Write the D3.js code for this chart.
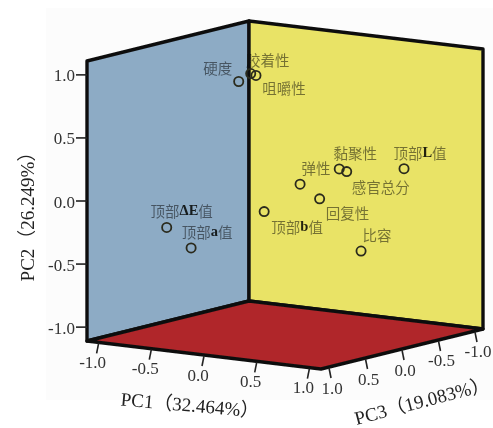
<!DOCTYPE html>
<html lang="en">
<head>
<meta charset="utf-8">
<title>PCA loading plot</title>
<script src="https://d3js.org/d3.v7.min.js"></script>
<style>
  html, body { margin: 0; padding: 0; background: #fff; }
  svg { display: block; }
  .tick-label { font-family: "Liberation Serif", serif; font-size: 17px; fill: #333; }
  .axis-title { font-family: "Liberation Serif", "Noto Sans CJK SC", serif; font-size: 19px; fill: #222; }
  .point-label { font-family: "Noto Sans CJK SC", sans-serif; font-size: 14.5px; fill: #000; fill-opacity: .5; }
  .point-label tspan { font-family: "Liberation Serif", serif; font-weight: bold; fill-opacity: .85; }
</style>
</head>
<body>
<script>
// loadings (depth is an estimate, the plot only shows a projection)
var names = ["硬度", "胶着性", "咀嚼性", "黏聚性", "感官总分", "顶部L值", "弹性", "回复性", "顶部b值", "比容", "顶部ΔE值", "顶部a值"];
var pc1 = [-0.10, 0.00, 0.05, 0.75, 0.80, 0.70, 0.60, 0.55, 0.10, 0.50, -0.70, -0.60];
var pc2 = [0.96, 1.03, 1.02, 0.33, 0.31, 0.19, 0.24, 0.07, -0.06, -0.44, -0.24, -0.42];
var pc3 = [0.49, 0.47, 0.47, 0.34, 0.31, -0.62, 0.66, 0.32, 0.43, -0.32, 0.61, 0.42];
var ticks = [-1.0, -0.5, 0.0, 0.5, 1.0];
var titles = ["PC1（32.464%）", "PC2（26.249%）", "PC3（19.083%）"];

var w = 493, h = 428;
var lim = 1.11;

// each axis moves the point along its own screen direction
var x1 = d3.scaleLinear().domain([-lim, lim]).range([0, 234]);
var y1 = d3.scaleLinear().domain([-lim, lim]).range([0, 28]);
var x3 = d3.scaleLinear().domain([lim, -lim]).range([0, 162]);
var y3 = d3.scaleLinear().domain([lim, -lim]).range([0, -40]);
var y2 = d3.scaleLinear().domain([-lim, lim]).range([0, -280]);

function proj(a, b, c) {
  return [87 + x1(a) + x3(c), 341 + y1(a) + y3(c) + y2(b)];
}
function poly(pts) {
  return "M" + pts.map(function(p) { return proj(p[0], p[1], p[2]).join(","); }).join("L") + "Z";
}

var svg = d3.select("body").append("svg").attr("width", w).attr("height", h);

var defs = svg.append("defs");
defs.append("filter").attr("id", "soft").append("feGaussianBlur").attr("stdDeviation", 0.45);

// scanned page background
svg.append("rect").attr("x", 46).attr("y", 8).attr("width", 447).attr("height", 392).attr("fill", "#fcfcfc");

var g = svg.append("g").attr("filter", "url(#soft)");

// walls and floor
var walls = [
  { fill: "#8dabc5", pts: [[-lim, -lim, lim], [-lim, lim, lim], [-lim, lim, -lim], [-lim, -lim, -lim]] },
  { fill: "#e9e366", pts: [[-lim, -lim, -lim], [-lim, lim, -lim], [lim, lim, -lim], [lim, -lim, -lim]] },
  { fill: "#b0282b", pts: [[-lim, -lim, lim], [lim, -lim, lim], [lim, -lim, -lim], [-lim, -lim, -lim]] }
];
g.selectAll("path.wall").data(walls).enter().append("path")
  .attr("class", "wall")
  .attr("d", function(d) { return poly(d.pts); })
  .attr("fill", function(d) { return d.fill; })
  .attr("stroke", "#111")
  .attr("stroke-width", 3.4)
  .attr("stroke-linejoin", "round");

// PC2 ticks, on the left edge
ticks.forEach(function(t) {
  var p = proj(-lim, t, lim);
  g.append("line").attr("x1", p[0] - 11).attr("x2", p[0]).attr("y1", p[1]).attr("y2", p[1])
    .attr("stroke", "#222").attr("stroke-width", 1.6);
  g.append("text").attr("class", "tick-label")
    .attr("x", p[0] - 12).attr("y", p[1] + 1).attr("text-anchor", "end").attr("dominant-baseline", "central")
    .text(t.toFixed(1));
});

// PC1 ticks, along the front left edge
ticks.forEach(function(t) {
  var p = proj(t, -lim, lim);
  g.append("line").attr("x1", p[0]).attr("x2", p[0] - 2).attr("y1", p[1] + 1).attr("y2", p[1] + 11)
    .attr("stroke", "#222").attr("stroke-width", 1.6);
  g.append("text").attr("class", "tick-label")
    .attr("x", p[0] - 6).attr("y", p[1] + 20).attr("text-anchor", "middle").attr("dominant-baseline", "central")
    .text(t.toFixed(1));
});

// PC3 ticks, along the front right edge
ticks.forEach(function(t) {
  var p = proj(lim, -lim, t);
  g.append("line").attr("x1", p[0]).attr("x2", p[0] + 2).attr("y1", p[1] + 1).attr("y2", p[1] + 11)
    .attr("stroke", "#222").attr("stroke-width", 1.6);
  g.append("text").attr("class", "tick-label")
    .attr("x", p[0] + 3).attr("y", p[1] + 21).attr("text-anchor", "middle").attr("dominant-baseline", "central")
    .text(t.toFixed(1));
});

// label offset from its marker
var labelDx = [-21, 17, 28, 16, 34, 16, 16, 28, 33, 16, 15, 16];
var labelDy = [-14, -15, 12, -17, 14, -17, -17, 13, 14, -17, -17, -17];

var points = names.map(function(n, i) {
  return { name: n, p: proj(pc1[i], pc2[i], pc3[i]), dx: labelDx[i], dy: labelDy[i] };
});

var labels = g.selectAll("text.point-label").data(points).enter().append("text")
  .attr("class", "point-label")
  .attr("x", function(d) { return d.p[0] + d.dx; })
  .attr("y", function(d) { return d.p[1] + d.dy; })
  .attr("text-anchor", "middle")
  .attr("dominant-baseline", "central");

// latin letters in the labels are set bold
labels.each(function(d) {
  var el = d3.select(this);
  d.name.split(/(Δ?[A-Za-z]+)/).forEach(function(part) {
    if (!part) return;
    if (/[A-Za-z]/.test(part)) el.append("tspan").text(part);
    else el.append("tspan").style("font-family", "'Noto Sans CJK SC'").style("font-weight", "normal").style("fill-opacity", .5).text(part);
  });
});

g.selectAll("circle.point").data(points).enter().append("circle")
  .attr("class", "point")
  .attr("cx", function(d) { return d.p[0]; })
  .attr("cy", function(d) { return d.p[1]; })
  .attr("r", 4.6)
  .attr("fill", "none")
  .attr("stroke", "#2b2b1e")
  .attr("stroke-width", 1.8);

// axis titles
var titlePos = [[190, 405, 5], [27, 212, -90], [422, 401, -14.7]];
g.selectAll("text.axis-title").data(titles).enter().append("text")
  .attr("class", "axis-title")
  .attr("text-anchor", "middle")
  .attr("dominant-baseline", "central")
  .attr("transform", function(d, i) {
    var t = titlePos[i];
    return "translate(" + t[0] + "," + t[1] + ") rotate(" + t[2] + ")";
  })
  .text(function(d) { return d; });
</script>
</body>
</html>
